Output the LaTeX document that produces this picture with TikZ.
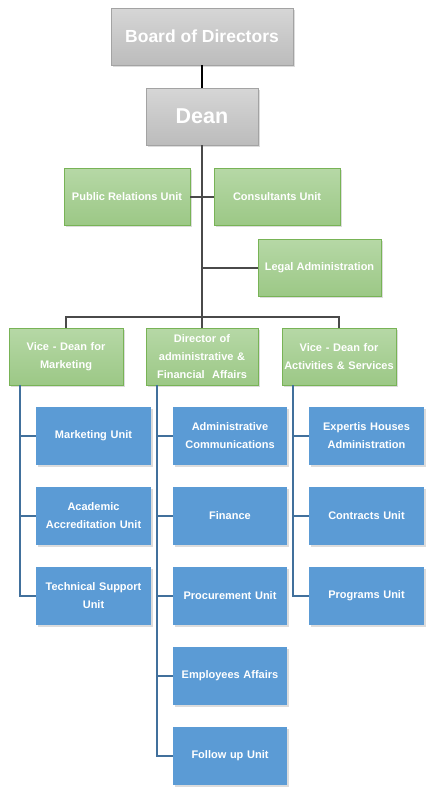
\documentclass[tikz,border=0pt]{standalone}
\usepackage{fontspec}
\setmainfont{Liberation Sans}
\usetikzlibrary{shadows}
\definecolor{bluefill}{HTML}{5B9BD5}
\definecolor{greentop}{HTML}{B6D8A6}
\definecolor{greenbot}{HTML}{9CC886}
\definecolor{greenedge}{HTML}{78B356}
\definecolor{greytop}{HTML}{D6D6D6}
\definecolor{greybot}{HTML}{BCBCBC}
\definecolor{greyedge}{HTML}{A3A3A3}
\definecolor{greyline}{HTML}{4A4A4A}
\definecolor{blueline}{HTML}{41709C}
\tikzset{
  boxbase/.style={rectangle, inner sep=2pt, align=center, text=white,
    font=\bfseries\fontsize{11}{18}\selectfont,
    drop shadow={opacity=0.28, shadow xshift=1.5pt, shadow yshift=-1.5pt}},
  greybox/.style={boxbase, draw=greyedge, line width=0.8pt,
    top color=greytop, bottom color=greybot},
  greenbox/.style={boxbase, draw=greenedge, line width=0.8pt,
    top color=greentop, bottom color=greenbot, minimum height=57pt},
  bluebox/.style={boxbase, fill=bluefill, draw=none, minimum height=58pt},
  gline/.style={draw=greyline, line width=2pt},
  bline/.style={draw=blueline, line width=2pt},
}
\begin{document}
\begin{tikzpicture}[x=1pt,y=-1pt]
\useasboundingbox (0,0) rectangle (434,793);
% top
\node[greybox, minimum width=182pt, minimum height=57pt, font=\bfseries\fontsize{17.5}{20}\selectfont] (board) at (202,36.5) {Board of Directors};
\node[greybox, minimum width=112pt, minimum height=57pt, font=\bfseries\fontsize{21.5}{24}\selectfont] (dean) at (202,116.5) {Dean};
% staff
\node[greenbox, minimum width=126pt] (pr) at (127,196.5) {Public Relations Unit};
\node[greenbox, minimum width=126pt] (cons) at (277,196.5) {Consultants Unit};
\node[greenbox, minimum width=123pt] (legal) at (319.5,267.5) {Legal Administration};
% second level
\node[greenbox, minimum width=114pt, text width=110pt] (vd1) at (66,356.5) {Vice - Dean for\\Marketing};
\node[greenbox, minimum width=112pt, text width=108pt] (dir) at (202,356.5) {Director of\\administrative \&\\Financial~ Affairs};
\node[greenbox, minimum width=114pt, text width=110pt] (vd2) at (339,356.5) {Vice - Dean for\\Activities \& Services};
% column 1
\node[bluebox, minimum width=115pt, text width=111pt] (m1) at (93.5,436) {Marketing Unit};
\node[bluebox, minimum width=115pt, text width=111pt] (m2) at (93.5,516) {Academic\\Accreditation Unit};
\node[bluebox, minimum width=115pt, text width=111pt] (m3) at (93.5,596) {Technical Support\\Unit};
% column 2
\node[bluebox, minimum width=114pt, text width=110pt] (d1) at (230,436) {Administrative\\Communications};
\node[bluebox, minimum width=114pt, text width=110pt] (d2) at (230,516) {Finance};
\node[bluebox, minimum width=114pt, text width=110pt] (d3) at (230,596) {Procurement Unit};
\node[bluebox, minimum width=114pt, text width=110pt] (d4) at (230,676) {Employees Affairs};
\node[bluebox, minimum width=114pt, text width=110pt] (d5) at (230,756) {Follow up Unit};
% column 3
\node[bluebox, minimum width=115pt, text width=111pt] (a1) at (366.5,436) {Expertis Houses\\Administration};
\node[bluebox, minimum width=115pt, text width=111pt] (a2) at (366.5,516) {Contracts Unit};
\node[bluebox, minimum width=115pt, text width=111pt] (a3) at (366.5,596) {Programs Unit};
% connectors top
\draw[line width=2pt, black] (board.south) -- (dean.north);
\coordinate (bus) at (202,317);
\draw[gline] (dean.south) -- (dir.north);
\draw[gline] (pr.east) -- (cons.west);
\draw[gline] (legal.west) -- (legal.west -| dean.south);
\draw[gline] (vd1.north) |- (bus) -| (vd2.north);
% connectors blue
\coordinate (s1) at (20,385);
\coordinate (s2) at (157,385);
\coordinate (s3) at (293,385);
\draw[bline] (s1) |- (m3.west);
\draw[bline] (s1) |- (m1.west);
\draw[bline] (s1) |- (m2.west);
\draw[bline] (s2) |- (d5.west);
\foreach \n in {d1,d2,d3,d4} \draw[bline] (s2) |- (\n.west);
\draw[bline] (s3) |- (a3.west);
\draw[bline] (s3) |- (a1.west);
\draw[bline] (s3) |- (a2.west);
\end{tikzpicture}
\end{document}
